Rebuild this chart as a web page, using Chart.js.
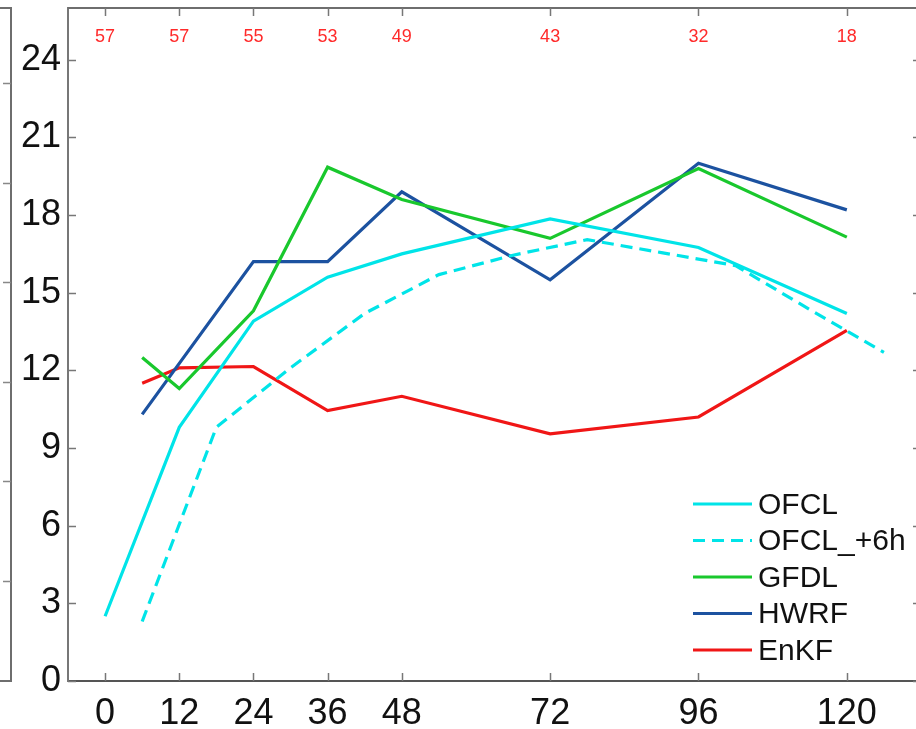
<!DOCTYPE html>
<html><head><meta charset="utf-8">
<script src="https://cdn.jsdelivr.net/npm/chart.js@4/dist/chart.umd.min.js"></script>
<style>html,body{margin:0;padding:0;overflow:hidden;background:#fff;width:916px;height:729px}canvas{display:block}</style>
</head><body><canvas id="c" width="930" height="729"></canvas>
<script>
const xTickHours = [0,12,24,36,48,72,96,120];
const yTickValues = [0,3,6,9,12,15,18,21,24];
const caseCounts = [57,57,55,53,49,43,32,18];
const ofclHours = [0,12,24,36,48,72,96,120];
const ofclValues = [2.5,9.8,13.9,15.6,16.5,17.85,16.75,14.2];
const ofcl6Hours = [6,18,30,42,54,66,78,90,102,114,126];
const ofcl6Values = [2.3,9.8,12.1,14.2,15.7,16.45,17.05,16.55,16.05,14.35,12.7];
const gfdlHours = [6,12,24,36,48,72,96,120];
const gfdlValues = [12.5,11.3,14.3,19.85,18.6,17.1,19.8,17.15];
const hwrfHours = [6,24,36,48,72,96,120];
const hwrfValues = [10.3,16.2,16.2,18.9,15.5,20.0,18.2];
const enkfHours = [6,12,24,36,48,72,96,120];
const enkfValues = [11.5,12.1,12.15,10.45,11.0,9.55,10.2,13.55];

const FONT = '"Liberation Sans", Arial, Helvetica, sans-serif';
const pts = (h, v) => h.map((x, i) => ({x, y: v[i]}));
function ds(label, h, v, color, dash) {
  return {label, data: pts(h, v), borderColor: color, backgroundColor: color,
    borderWidth: 3.2, borderDash: dash || [], pointRadius: 0, tension: 0, fill: false};
}

const decor = {
  id: 'decor',
  afterDraw(chart) {
    const ctx = chart.ctx, a = chart.chartArea;
    const xs = chart.scales.x, ys = chart.scales.y;
    ctx.save();
    // frame top/right
    ctx.strokeStyle = '#6e6e6e'; ctx.lineWidth = 2;
    ctx.beginPath();
    ctx.moveTo(a.left, a.top); ctx.lineTo(a.right, a.top); ctx.lineTo(a.right, a.bottom);
    ctx.stroke();
    // inward ticks
    ctx.lineWidth = 1.5; ctx.strokeStyle = '#777';
    const tl = 8;
    ctx.beginPath();
    xTickHours.forEach(h => {
      const px = Math.round(xs.getPixelForValue(h)) + 0.5;
      ctx.moveTo(px, a.bottom); ctx.lineTo(px, a.bottom - tl);
      ctx.moveTo(px, a.top); ctx.lineTo(px, a.top + tl);
    });
    yTickValues.forEach(v => {
      const py = Math.round(ys.getPixelForValue(v)) + 0.5;
      ctx.moveTo(a.left, py); ctx.lineTo(a.left + tl, py);
      ctx.moveTo(a.right, py); ctx.lineTo(a.right - tl, py);
    });
    ctx.stroke();
    // left neighbour panel edge
    ctx.strokeStyle = '#6e6e6e'; ctx.lineWidth = 2;
    ctx.beginPath();
    ctx.moveTo(0, a.top); ctx.lineTo(11, a.top); ctx.lineTo(11, a.bottom); ctx.lineTo(0, a.bottom);
    ctx.stroke();
    ctx.lineWidth = 1.5; ctx.strokeStyle = '#888';
    ctx.beginPath();
    for (let i = 0; i < 6; i++) {
      const py = Math.round(83 + i * 99.6) + 0.5;
      ctx.moveTo(11, py); ctx.lineTo(3, py);
    }
    ctx.stroke();
    // case counts
    ctx.fillStyle = '#ff2a2a';
    ctx.font = '18px ' + FONT;
    ctx.textAlign = 'center'; ctx.textBaseline = 'middle';
    xTickHours.forEach((h, i) => ctx.fillText(String(caseCounts[i]), xs.getPixelForValue(h), 37));
    // legend
    ctx.font = '30px ' + FONT;
    ctx.textAlign = 'left'; ctx.textBaseline = 'middle';
    chart.data.datasets.forEach((d, i) => {
      const y = 504 + i * 36.5;
      ctx.strokeStyle = d.borderColor; ctx.lineWidth = 3;
      ctx.setLineDash(d.borderDash);
      ctx.beginPath(); ctx.moveTo(693, y); ctx.lineTo(752, y); ctx.stroke();
      ctx.setLineDash([]);
      ctx.fillStyle = '#111';
      ctx.fillText(d.label, 758, y + 1.5);
    });
    ctx.restore();
  }
};

new Chart(document.getElementById('c'), {
  type: 'line',
  data: {
    datasets: [
      ds('OFCL', ofclHours, ofclValues, 'rgb(0,228,232)'),
      ds('OFCL_+6h', ofcl6Hours, ofcl6Values, 'rgb(0,228,232)', [12, 7]),
      ds('GFDL', gfdlHours, gfdlValues, 'rgb(25,200,45)'),
      ds('HWRF', hwrfHours, hwrfValues, 'rgb(28,82,160)'),
      ds('EnKF', enkfHours, enkfValues, 'rgb(240,22,22)')
    ]
  },
  options: {
    responsive: false,
    animation: false,
    layout: {padding: {top: 8, right: 9, left: 0, bottom: 0}},
    plugins: {legend: {display: false}, tooltip: {enabled: false}},
    scales: {
      x: {
        type: 'linear', min: -6, max: 132,
        afterBuildTicks: s => { s.ticks = xTickHours.map(v => ({value: v})); },
        afterFit: s => { s.height = 48; s.paddingLeft = 0; s.paddingRight = 0; },
        grid: {display: false, drawTicks: false},
        border: {display: true, color: '#555', width: 2},
        ticks: {color: '#111', font: {family: FONT, size: 36}, padding: 11, maxRotation: 0, autoSkip: false}
      },
      y: {
        type: 'linear', min: 0, max: 26,
        afterBuildTicks: s => { s.ticks = yTickValues.map(v => ({value: v})); },
        afterFit: s => { s.width = 68; s.paddingTop = 0; s.paddingBottom = 0; },
        grid: {display: false, drawTicks: false},
        border: {display: true, color: '#777', width: 2},
        ticks: {color: '#111', font: {family: FONT, size: 36}, padding: 7, autoSkip: false}
      }
    }
  },
  plugins: [decor]
});
</script>
</body></html>
